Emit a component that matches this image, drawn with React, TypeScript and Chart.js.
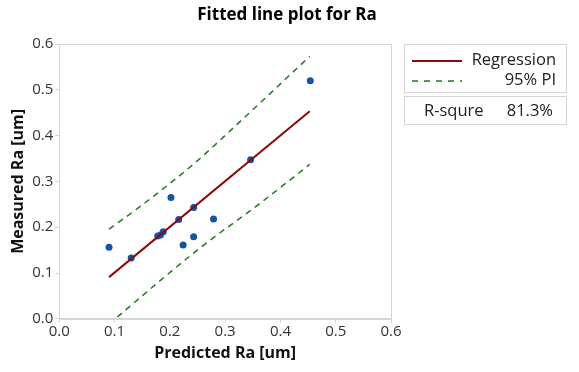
import React, { useEffect, useRef } from "react";
import { Chart, registerables } from "chart.js";

Chart.register(...registerables);

const predicted = [0.090, 0.130, 0.178, 0.183, 0.188, 0.202, 0.216, 0.224, 0.243, 0.243, 0.279, 0.346, 0.454];
const measured = [0.156, 0.133, 0.181, 0.183, 0.190, 0.265, 0.217, 0.161, 0.243, 0.179, 0.218, 0.347, 0.520];

const fitX = [0.090, 0.453];
const fitY = [0.091, 0.453];

const upperX = [0.090, 0.146, 0.243, 0.321, 0.453];
const upperY = [0.196, 0.245, 0.338, 0.424, 0.573];
const lowerX = [0.090, 0.110, 0.255, 0.363, 0.453];
const lowerY = [-0.012, 0.009, 0.155, 0.252, 0.337];

const xTicks = [0, 0.1, 0.2, 0.3, 0.4, 0.5, 0.6];
const yTicks = [0, 0.1, 0.2, 0.3, 0.4, 0.5, 0.6];

const titleText = "Fitted line plot for Ra";
const xTitle = "Predicted Ra [um]";
const yTitle = "Measured Ra [um]";
const legendLabels = ["Regression", "95% PI"];
const rsqLabel = "R-squre";
const rsqValue = "81.3%";

const FONT = "'Open Sans', 'Noto Sans', sans-serif";
const RED = "#8b0a0a";
const GREEN = "#1f7a1f";
const BLUE = "#1553a3";
const FRAME = "#d4d4d4";

const pts = (xs: number[], ys: number[]) => xs.map((x, i) => ({ x, y: ys[i] }));

const sidePlugin = {
  id: "side",
  beforeDatasetsDraw(chart: any) {
    const { ctx, chartArea: a } = chart;
    ctx.save();
    ctx.strokeStyle = FRAME;
    ctx.lineWidth = 1;
    ctx.strokeRect(Math.round(a.left) + 0.5, Math.round(a.top) + 0.5, Math.round(a.right - a.left), Math.round(a.bottom - a.top));
    ctx.restore();
  },
  afterDraw(chart: any) {
    const { ctx } = chart;
    ctx.save();
    // title
    ctx.fillStyle = "#000";
    ctx.font = `bold 17px ${FONT}`;
    ctx.textAlign = "center";
    ctx.textBaseline = "middle";
    ctx.fillText(titleText, 287, 15);
    // legend boxes
    ctx.strokeStyle = FRAME;
    ctx.lineWidth = 1;
    ctx.strokeRect(404.5, 44.5, 162, 48);
    ctx.strokeRect(404.5, 96.5, 162, 28);
    // regression sample
    ctx.strokeStyle = RED;
    ctx.lineWidth = 2;
    ctx.beginPath();
    ctx.moveTo(412, 61);
    ctx.lineTo(462, 61);
    ctx.stroke();
    // PI sample
    ctx.strokeStyle = GREEN;
    ctx.lineWidth = 1.5;
    ctx.setLineDash([6, 6]);
    ctx.beginPath();
    ctx.moveTo(412, 81);
    ctx.lineTo(462, 81);
    ctx.stroke();
    ctx.setLineDash([]);
    ctx.fillStyle = "#222";
    ctx.font = `16.5px ${FONT}`;
    ctx.textBaseline = "middle";
    ctx.textAlign = "right";
    ctx.fillText(legendLabels[0], 556, 60);
    ctx.fillText(legendLabels[1], 556, 80);
    ctx.fillText(rsqValue, 553, 111);
    ctx.textAlign = "left";
    ctx.fillText(rsqLabel, 424, 111);
    ctx.restore();
  },
};

export default function App() {
  const ref = useRef<HTMLCanvasElement | null>(null);
  useEffect(() => {
    if (!ref.current) return;
    const lineDs = (label: string, xs: number[], ys: number[]) => ({
      label,
      data: pts(xs, ys),
      showLine: true,
      borderColor: GREEN,
      borderWidth: 1.5,
      borderDash: [6, 5],
      pointRadius: 0,
      cubicInterpolationMode: "monotone",
      fill: false,
    });
    const chart = new Chart(ref.current, {
      type: "scatter",
      data: {
        datasets: [
          lineDs("PI upper", upperX, upperY) as any,
          lineDs("PI lower", lowerX, lowerY) as any,
          {
            label: "Regression",
            data: pts(fitX, fitY),
            showLine: true,
            borderColor: RED,
            borderWidth: 2,
            pointRadius: 0,
            fill: false,
          },
          {
            label: "Data",
            data: pts(predicted, measured),
            backgroundColor: BLUE,
            borderColor: BLUE,
            pointRadius: 3.5,
            borderWidth: 0,
          },
        ],
      },
      options: {
        responsive: false,
        animation: false,
        layout: { padding: { left: 9, right: 188, top: 44, bottom: 9 } },
        plugins: {
          legend: { display: false },
          tooltip: { enabled: false },
          title: { display: false },
        },
        scales: {
          x: {
            type: "linear",
            min: 0,
            max: 0.6,
            afterBuildTicks: (s: any) => { s.ticks = xTicks.map((v) => ({ value: v })); },
            ticks: {
              color: "#333",
              font: { family: FONT, size: 15 },
              padding: 0,
              callback: (v: any) => Number(v).toFixed(1),
            },
            grid: { drawOnChartArea: false, color: FRAME, tickLength: 4 },
            border: { color: FRAME },
            title: {
              display: true,
              text: xTitle,
              color: "#111",
              font: { family: FONT, size: 16, weight: "bold" },
              padding: { top: 3, bottom: 0 },
            },
          },
          y: {
            type: "linear",
            min: 0,
            max: 0.6,
            afterBuildTicks: (s: any) => { s.ticks = yTicks.map((v) => ({ value: v })); },
            ticks: {
              color: "#333",
              font: { family: FONT, size: 15 },
              padding: 2,
              callback: (v: any) => Number(v).toFixed(1),
            },
            grid: { drawOnChartArea: false, color: FRAME, tickLength: 4 },
            border: { color: FRAME },
            title: {
              display: true,
              text: yTitle,
              color: "#111",
              font: { family: FONT, size: 16, weight: "bold" },
              padding: { top: 0, bottom: 2 },
            },
          },
        },
      },
      plugins: [sidePlugin],
    });
    return () => chart.destroy();
  }, []);
  return (
    <div style={{ position: "fixed", left: 0, top: 0, width: 579, height: 372, background: "#fff" }}>
      <canvas ref={ref} width={579} height={372} style={{ display: "block" }} />
    </div>
  );
}
